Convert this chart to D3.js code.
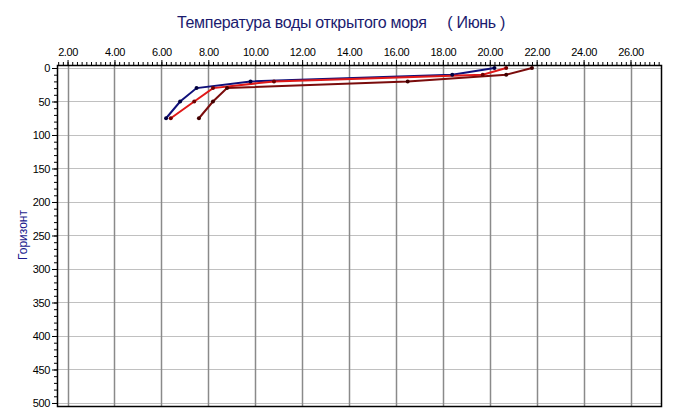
<!DOCTYPE html>
<html><head><meta charset="utf-8">
<script src="https://cdn.jsdelivr.net/npm/d3@7"></script>
<style>
html,body{margin:0;padding:0;background:#fff;}
svg{display:block;font-family:"Liberation Sans",Arial,sans-serif;}
</style></head>
<body>
<svg id="c" width="675" height="419"></svg>
<script>
const depths = [0, 10, 20, 30, 50, 75];
const seriesNames = ["s1", "s2", "s3"];
const tempNavy   = [20.2, 18.4, 9.8, 7.5, 6.8, 6.2];
const tempRed    = [20.7, 19.7, 10.8, 8.2, 7.4, 6.4];
const tempMaroon = [21.8, 20.7, 16.5, 8.8, 8.2, 7.6];
const xMajorTicks = [2, 4, 6, 8, 10, 12, 14, 16, 18, 20, 22, 24, 26];
const yMajorTicks = [0, 50, 100, 150, 200, 250, 300, 350, 400, 450, 500];
const titleText = "Температура воды открытого моря     ( Июнь )";
const yLabel = "Горизонт";

const series = [
  {name: seriesNames[0], vals: tempNavy, color: "#10107a", mark: "#000040"},
  {name: seriesNames[1], vals: tempRed, color: "#e01818", mark: "#700000"},
  {name: seriesNames[2], vals: tempMaroon, color: "#7a0c0c", mark: "#400000"}
];

const L = 57, R = 661, T = 65, B = 406;
const svg = d3.select("#c");
const x = d3.scaleLinear().domain([1.55, 27.3]).range([L, R]);
const y = d3.scaleLinear().domain([-4.48, 504.5]).range([T, B]);

const xMinor = d3.range(16, 274, 2).map(v => v / 10);
const yMinor = d3.range(0, 501, 10);

// gridlines
svg.append("g").selectAll("line").data(yMajorTicks).join("line")
  .attr("x1", L).attr("x2", R)
  .attr("y1", d => Math.round(y(d)) + 0.5).attr("y2", d => Math.round(y(d)) + 0.5)
  .attr("stroke", "#c0c0c0").attr("stroke-width", 1);
svg.append("g").selectAll("line").data(xMajorTicks).join("line")
  .attr("y1", T).attr("y2", B)
  .attr("x1", d => Math.round(x(d)) + 0.5).attr("x2", d => Math.round(x(d)) + 0.5)
  .attr("stroke", "#8a8a8a").attr("stroke-width", 1.5);

// frame
svg.append("rect").attr("x", L + 0.5).attr("y", T + 0.5)
  .attr("width", R - L).attr("height", B - T)
  .attr("fill", "none").attr("stroke", "#000").attr("stroke-width", 1.5);

// x axis (top)
const fmt = d3.format(".2f");
const gxMinor = svg.append("g").attr("transform", `translate(0,${T})`)
  .call(d3.axisTop(x).tickValues(xMinor).tickSize(3).tickFormat(""));
gxMinor.select(".domain").remove();
gxMinor.selectAll("line").attr("stroke", "#000");
const gx = svg.append("g").attr("transform", `translate(0,${T})`)
  .call(d3.axisTop(x).tickValues(xMajorTicks).tickSize(5).tickPadding(4).tickFormat(fmt));
gx.select(".domain").remove();
gx.selectAll("line").attr("stroke", "#000");
gx.selectAll("text").attr("font-size", 11).attr("fill", "#000")
  .attr("font-family", "Liberation Sans, Arial, sans-serif").attr("letter-spacing", "-0.4");

// y axis (left)
const gyMinor = svg.append("g").attr("transform", `translate(${L},0)`)
  .call(d3.axisLeft(y).tickValues(yMinor).tickSize(3).tickFormat(""));
gyMinor.select(".domain").remove();
gyMinor.selectAll("line").attr("stroke", "#000");
const gy = svg.append("g").attr("transform", `translate(${L},0)`)
  .call(d3.axisLeft(y).tickValues(yMajorTicks).tickSize(5).tickPadding(2).tickFormat(d3.format("d")));
gy.select(".domain").remove();
gy.selectAll("line").attr("stroke", "#000");
gy.selectAll("text").attr("font-size", 11).attr("fill", "#000")
  .attr("font-family", "Liberation Sans, Arial, sans-serif").attr("letter-spacing", "-0.4");

// lines
const line = d3.line().x(d => x(d[0])).y(d => y(d[1]));
series.forEach(s => {
  const pts = s.vals.map((v, i) => [v, depths[i]]);
  svg.append("path").datum(pts).attr("d", line)
    .attr("fill", "none").attr("stroke", s.color).attr("stroke-width", 2);
});
series.forEach(s => {
  const pts = s.vals.map((v, i) => [v, depths[i]]);
  svg.append("g").selectAll("circle").data(pts).join("circle")
    .attr("cx", d => x(d[0])).attr("cy", d => y(d[1])).attr("r", 2)
    .attr("fill", s.mark);
});

// title
svg.append("text").attr("x", 341).attr("y", 28).attr("text-anchor", "middle")
  .attr("font-size", 16).attr("fill", "#1a1a6e").style("white-space", "pre")
  .attr("letter-spacing", "-0.3")
  .text(titleText);

// y label
svg.append("text").attr("transform", "translate(27,235) rotate(-90)")
  .attr("text-anchor", "middle").attr("font-size", 12).attr("fill", "#1a1a8e")
  .text(yLabel);
</script>
</body></html>
